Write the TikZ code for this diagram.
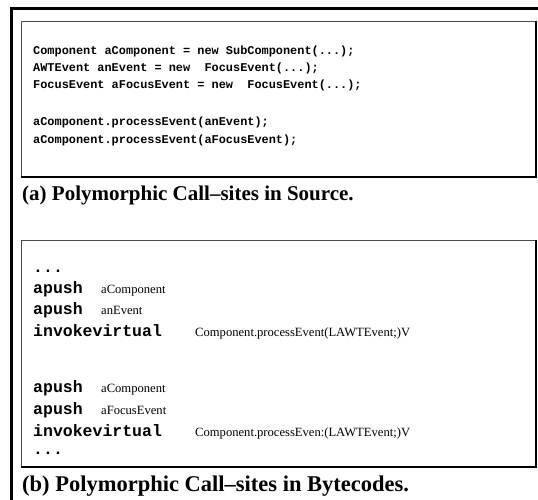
\documentclass[tikz,border=0pt]{standalone}
\usepackage{fontspec}
\setmainfont{Liberation Serif}
\setmonofont{Liberation Mono}
\usepackage{xcolor}
\usetikzlibrary{positioning}

\tikzset{
  srcline/.style={anchor=base west, inner sep=0pt, font=\fontsize{11.9}{14}\selectfont\ttfamily\bfseries},
  opcode/.style={anchor=base west, inner sep=0pt, font=\fontsize{16.5}{19}\selectfont\ttfamily\bfseries},
  operand/.style={anchor=base west, inner sep=0pt, font=\fontsize{12.6}{15}\selectfont\rmfamily},
  subcap/.style={anchor=base west, inner sep=0pt, font=\fontsize{21}{24}\selectfont\rmfamily\bfseries},
  thinedge/.style={line width=0.7pt, black!70},
  darkedge/.style={line width=1.3pt, black},
}

\begin{document}
\begin{tikzpicture}[x=1pt,y=-1pt]

\useasboundingbox (0,0) rectangle (538,500);

% outer frame, runs off the page at right and bottom
\begin{scope}
\clip (0,0) rectangle (538,500);
\draw[line width=3pt] (11.5,8.5) rectangle (560,530);
\end{scope}

\coordinate (A1) at (21,21);
\coordinate (A2) at (536,177);
\coordinate (B1) at (21,240);
\coordinate (B2) at (536,467);

% source box
\draw[thinedge] (A1 |- A2) -- (A1) -- (A1 -| A2);
\draw[darkedge] (A1 -| A2) -- (A2) -- (A1 |- A2);

\node[srcline] (s1) at (33,55) {Component aComponent = new SubComponent(...);};
\node[srcline] (s2) at (33,72) {AWTEvent anEvent = new~ FocusEvent(...);};
\node[srcline] (s3) at (33,89) {FocusEvent aFocusEvent = new~ FocusEvent(...);};
\node[srcline] (s4) at (33,126) {aComponent.processEvent(anEvent);};
\node[srcline] (s5) at (33,143) {aComponent.processEvent(aFocusEvent);};

\node[subcap] (capA) at (22,200) {(a) Polymorphic Call--sites in Source.};

% bytecode box
\draw[thinedge] (B1 |- B2) -- (B1) -- (B1 -| B2);
\draw[darkedge] (B1 -| B2) -- (B2) -- (B1 |- B2);

\node[opcode] (b0) at (33,272) {...};
\node[opcode] (b1) at (33,293) {apush};
\node[operand] (b1x) at (101,293) {aComponent};
\node[opcode] (b2) at (33,314) {apush};
\node[operand] (b2x) at (101,314) {anEvent};
\node[opcode] (b3) at (33,336) {invokevirtual};
\node[operand] (b3x) at (195,336) {Component.processEvent(LAWTEvent;)V};

\node[opcode] (b4) at (33,392) {apush};
\node[operand] (b4x) at (101,392) {aComponent};
\node[opcode] (b5) at (33,414) {apush};
\node[operand] (b5x) at (101,414) {aFocusEvent};
\node[opcode] (b6) at (33,436) {invokevirtual};
\node[operand] (b6x) at (195,436) {Component.processEven:(LAWTEvent;)V};
\node[opcode] (b7) at (33,454) {...};

\node[subcap, font=\fontsize{22.5}{26}\selectfont\rmfamily\bfseries] (capB) at (22,491) {(b) Polymorphic Call--sites in Bytecodes.};

\end{tikzpicture}
\end{document}
